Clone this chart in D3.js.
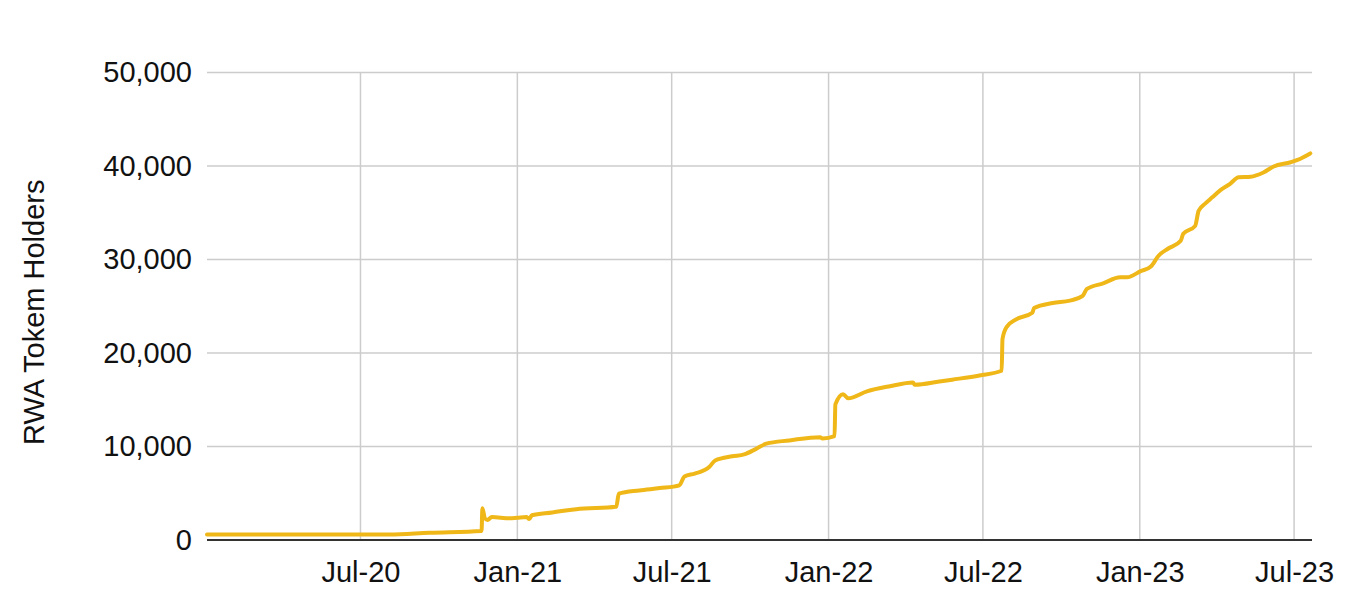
<!DOCTYPE html>
<html>
<head>
<meta charset="utf-8">
<script src="https://cdn.jsdelivr.net/npm/d3@7"></script>
<style>
  html, body { margin: 0; padding: 0; background: #fff; }
  svg { display: block; }
  text { font-family: "Liberation Sans", Arial, sans-serif; fill: #111; }
</style>
</head>
<body>
<svg id="chart" width="1353" height="613"></svg>
<script>
// ---- data ----
const dates = [
  "2020-01-03","2020-08-04","2020-09-20","2020-11-20","2020-11-21","2020-11-24","2020-11-27","2020-12-02",
  "2020-12-23","2021-01-01","2021-01-12","2021-01-15","2021-01-18","2021-02-11","2021-02-22","2021-03-11",
  "2021-04-27","2021-04-30","2021-05-24","2021-06-17","2021-07-10","2021-07-16","2021-07-28","2021-08-14",
  "2021-08-21","2021-09-10","2021-09-24","2021-10-08","2021-10-20","2021-11-16","2021-12-22","2021-12-25",
  "2022-01-08","2022-01-09","2022-01-18","2022-01-24","2022-02-15","2022-03-14","2022-04-10","2022-04-12",
  "2022-05-11","2022-05-26","2022-06-27","2022-07-23","2022-07-24","2022-07-29","2022-08-09","2022-08-28",
  "2022-08-30","2022-09-21","2022-10-11","2022-10-26","2022-10-31","2022-11-19","2022-12-09","2022-12-17",
  "2023-01-02","2023-01-14","2023-01-23","2023-02-03","2023-02-18","2023-02-21","2023-03-07","2023-03-11",
  "2023-03-19","2023-03-27","2023-04-06","2023-04-17","2023-04-27","2023-05-11","2023-05-26","2023-06-07",
  "2023-06-27","2023-07-05","2023-07-20"
];
const holders = [
  600, 600, 780, 960, 3400, 2300, 2150, 2450,
  2320, 2380, 2450, 2250, 2650, 2950, 3100, 3300,
  3550, 4950, 5300, 5550, 5850, 6800, 7100, 7800,
  8500, 8950, 9150, 9750, 10300, 10650, 11000, 10850,
  11100, 14500, 15600, 15150, 15900, 16450, 16850, 16600,
  16950, 17150, 17600, 18100, 21500, 22800, 23600, 24300,
  24800, 25350, 25600, 26100, 26850, 27450, 28100, 28100,
  28750, 29250, 30400, 31150, 32000, 32750, 33600, 35200,
  36000, 36650, 37450, 38100, 38800, 38850, 39300, 39950,
  40400, 40650, 41350
];
const xTicks = ["2020-07-01","2021-01-01","2021-07-01","2022-01-01","2022-07-01","2023-01-01","2023-07-01"];
const yTicks = [0, 10000, 20000, 30000, 40000, 50000];
const xDomain = ["2020-01-03", "2023-07-22"];
const yTitle = "RWA Tokem Holders";

// ---- chart ----
(function () {
const parse = d3.utcParse("%Y-%m-%d");
const data = dates.map((d, i) => ({ date: parse(d), value: holders[i] }));

const svg = d3.select("#chart");
const mLeft = 207, mRight = 1312, mTop = 72.5, mBottom = 540;

const x = d3.scaleUtc().domain(xDomain.map(parse)).range([mLeft, mRight]);
const y = d3.scaleLinear().domain([0, 50000]).range([mBottom, mTop]);

// horizontal gridlines
svg.append("g").selectAll("line").data(yTicks.filter(v => v > 0)).join("line")
  .attr("x1", mLeft).attr("x2", mRight)
  .attr("y1", d => y(d)).attr("y2", d => y(d))
  .attr("stroke", "#cccccc").attr("stroke-width", 1.5);

// vertical gridlines
svg.append("g").selectAll("line").data(xTicks.map(parse)).join("line")
  .attr("x1", d => x(d)).attr("x2", d => x(d))
  .attr("y1", mTop).attr("y2", mBottom)
  .attr("stroke", "#cccccc").attr("stroke-width", 1.5);

// y axis labels
const yAxis = d3.axisLeft(y).tickValues(yTicks).tickFormat(d3.format(",")).tickSize(0).tickPadding(15);
const gy = svg.append("g").attr("transform", `translate(${mLeft},0)`).call(yAxis);
gy.select(".domain").remove();
gy.selectAll("text").attr("font-size", 29).attr("font-family", "'Liberation Sans', Arial, sans-serif").attr("fill", "#111");

// x axis labels
const xAxis = d3.axisBottom(x).tickValues(xTicks.map(parse)).tickFormat(d3.utcFormat("%b-%y")).tickSize(0).tickPadding(21);
const gx = svg.append("g").attr("transform", `translate(0,${mBottom})`).call(xAxis);
gx.select(".domain").remove();
gx.selectAll("text").attr("font-size", 29).attr("font-family", "'Liberation Sans', Arial, sans-serif").attr("fill", "#111");

// baseline
svg.append("line")
  .attr("x1", mLeft).attr("x2", mRight)
  .attr("y1", y(0)).attr("y2", y(0))
  .attr("stroke", "#333333").attr("stroke-width", 2);

// line
const line = d3.line().x(d => x(d.date)).y(d => y(d.value)).curve(d3.curveMonotoneX);
svg.append("path").datum(data)
  .attr("d", line)
  .attr("fill", "none")
  .attr("stroke", "#EFB718")
  .attr("stroke-width", 4)
  .attr("stroke-linejoin", "round")
  .attr("stroke-linecap", "round");

// y title
svg.append("text")
  .attr("transform", `translate(44,${(mTop + mBottom) / 2 + 6}) rotate(-90)`)
  .attr("text-anchor", "middle")
  .attr("font-size", 29)
  .attr("fill", "#111")
  .text(yTitle);
})();
</script>
</body>
</html>
